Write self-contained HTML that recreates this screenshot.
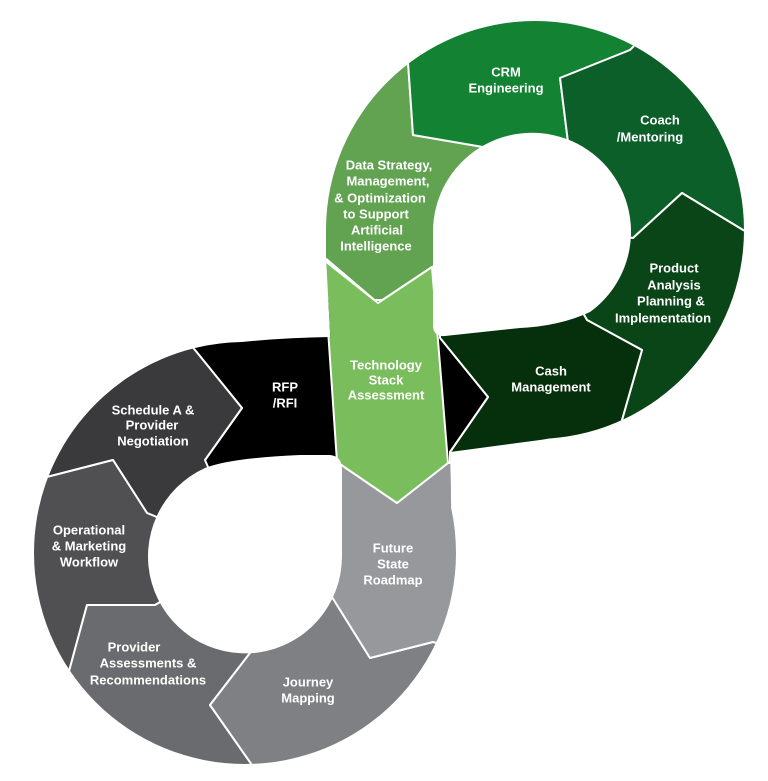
<!DOCTYPE html>
<html><head><meta charset="utf-8"><style>
html,body{margin:0;padding:0;background:#fff;width:768px;height:781px;overflow:hidden}
text{font-family:"Liberation Sans",sans-serif;font-weight:bold;font-size:13px;fill:#fff;text-anchor:middle;dominant-baseline:central}
</style></head><body>
<svg width="768" height="781" viewBox="0 0 768 781" xmlns="http://www.w3.org/2000/svg">
<defs>
<clipPath id="c">
<circle cx="535" cy="230" r="209"/>
<circle cx="245" cy="553" r="211"/>
<polygon points="326,228 446,228 452,553 337,553 337,462 326,257"/>
<path d="M195,348 Q260,338 330,337 L560,330 L622,420 Q600,430 540,440 L450,452 L330,455 L220,470 Z"/>
</clipPath>
</defs>
<g clip-path="url(#c)" stroke="#fff" stroke-width="2" stroke-linejoin="round">
<polygon fill="#62a352" points="535,228 483,147 413,135 408,62 390,-20 250,-20 250,257 324,257 378,303 432,267"/>
<polygon fill="#138232" points="535,228 568,142 560,78 630,50 700,-20 390,-20 408,62 413,135 483,147"/>
<polygon fill="#0c5f29" points="535,228 633,238 682,193 743,230 800,260 800,-20 700,-20 630,50 560,78 568,142"/>
<polygon fill="#0a4518" points="535,228 587,320 642,350 620,427 600,500 800,500 800,260 743,230 682,193 633,238"/>
<polygon fill="#06300c" points="587,320 642,350 620,427 600,500 450,500 450,452 488,397 440,338 440,300 535,228"/>
<polygon fill="#000" points="150,300 440,300 440,338 488,397 450,452 450,480 205,480 205,460 242,408 195,350"/>
<polygon fill="#3a3a3c" points="245,553 147,513 113,460 43,478 0,490 0,300 150,300 195,350 242,408 205,460"/>
<polygon fill="#505052" points="245,553 155,605 87,605 68,675 0,700 0,490 43,478 113,460 147,513"/>
<polygon fill="#6a6b6e" points="245,553 250,653 210,705 252,765 260,800 0,800 0,700 68,675 87,605 155,605"/>
<polygon fill="#7f8084" points="245,553 332,597 370,658 433,642 500,660 500,800 260,800 252,765 210,705 250,653"/>
<polygon fill="#97989b" points="337,462 397,503 448,463 500,463 500,660 433,642 370,658 332,597 245,553"/>
<polygon fill="#7abd5c" points="320,257 378,303 432,267 448,463 397,503 337,462 326,300"/>
</g>
<path fill="#fff" d="M433,232 A99,99 0 1 1 590,312 Q560,326 520,328 L445,336 Q433,337 433,325 Z"/>
<path fill="#fff" d="M342,557 A97,97 0 1 1 205,468 Q230,458 300,455 L330,455 Q342,456 342,470 Z"/>
<text x="506" y="72">CRM</text><text x="506" y="88">Engineering</text>
<text x="660" y="120">Coach</text><text x="650" y="137">/Mentoring</text>
<text x="389" y="165">Data Strategy,</text><text x="388" y="181">Management,</text><text x="380" y="198">&amp; Optimization</text><text x="376" y="214">to Support</text><text x="377" y="230">Artificial</text><text x="376" y="246">Intelligence</text>
<text x="674" y="268">Product</text><text x="674" y="285">Analysis</text><text x="671" y="301">Planning &amp;</text><text x="663" y="318">Implementation</text>
<text x="551" y="371">Cash</text><text x="551" y="387">Management</text>
<text x="386" y="365">Technology</text><text x="386" y="380">Stack</text><text x="386" y="395">Assessment</text>
<text x="285" y="387">RFP</text><text x="285" y="403">/RFI</text>
<text x="153" y="410">Schedule A &amp;</text><text x="152" y="425">Provider</text><text x="153" y="441">Negotiation</text>
<text x="89" y="530">Operational</text><text x="89" y="546">&amp; Marketing</text><text x="89" y="562">Workflow</text>
<text x="134" y="647">Provider</text><text x="148" y="663">Assessments &amp;</text><text x="148" y="680">Recommendations</text>
<text x="308" y="682">Journey</text><text x="308" y="698">Mapping</text>
<text x="393" y="548">Future</text><text x="393" y="564">State</text><text x="393" y="580">Roadmap</text>
</svg>
</body></html>
